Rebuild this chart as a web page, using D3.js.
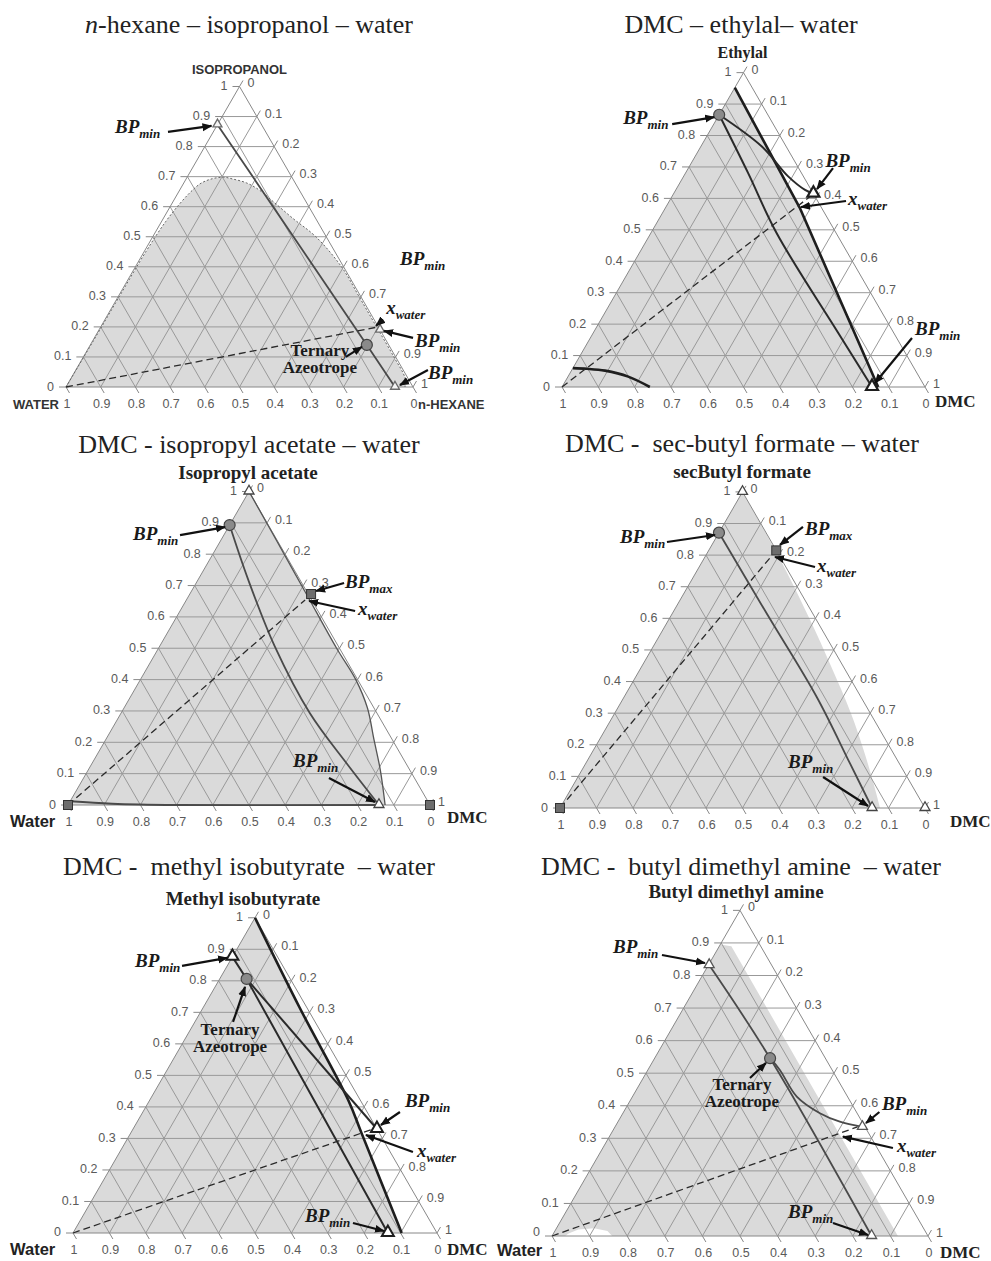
<!DOCTYPE html>
<html>
<head>
<meta charset="utf-8">
<script src="https://cdn.jsdelivr.net/npm/d3@7/dist/d3.min.js"></script>
<style>
body{margin:0;background:#fff}
svg{display:block;background:#fff}
.title{font-family:'Liberation Serif','Times New Roman',serif;font-size:26px;fill:#222;white-space:pre}
.tick-label{font-family:'Liberation Sans',Arial,sans-serif;font-size:12.5px;fill:#5a5a5a}
.grid{stroke:#999;stroke-width:1;fill:none}
.frame{stroke:#888;stroke-width:1;fill:none}
.tickmark{stroke:#888;stroke-width:1}
.name-sans{font-family:'Liberation Sans',Arial,sans-serif;font-weight:bold;font-size:13px;fill:#333}
.name-serif{font-family:'Liberation Serif','Times New Roman',serif;font-weight:bold;font-size:19px;fill:#222}
.name-water{font-family:'Liberation Sans',Arial,sans-serif;font-weight:bold;font-size:16.5px;fill:#222}
.l-thick{stroke:#1e1e1e;stroke-width:2.6;fill:none}
.l-med{stroke:#2a2a2a;stroke-width:2;fill:none}
.l-grey{stroke:#4a4a4a;stroke-width:1.8;fill:none}
.l-thin{stroke:#555;stroke-width:1.3;fill:none}
.l-dash{stroke:#2a2a2a;stroke-width:1.3;fill:none;stroke-dasharray:7 4}
.l-dot{stroke:#666;stroke-width:1;fill:none;stroke-dasharray:2 2}
.ann{font-family:'Liberation Serif','Times New Roman',serif;font-weight:bold;font-style:italic;fill:#1a1a1a}
.ann-plain{font-family:'Liberation Serif','Times New Roman',serif;font-weight:bold;font-size:17px;fill:#1a1a1a}
.arrow{stroke:#111;stroke-width:2.2;fill:none}
</style>
</head>
<body>
<svg id="chart" width="991" height="1261"></svg>
<script>
// ================= DATA =================
// compositions are [top-component mole fraction, right-component mole fraction]; water = 1 - top - right
const titles = ["n-hexane – isopropanol – water", "DMC – ethylal– water", "DMC - isopropyl acetate – water",
  "DMC -  sec-butyl formate – water", "DMC -  methyl isobutyrate  – water", "DMC -  butyl dimethyl amine  – water"];
const titleItalicChars = [1, 0, 0, 0, 0, 0];
const topNames = ["ISOPROPANOL", "Ethylal", "Isopropyl acetate", "secButyl formate", "Methyl isobutyrate", "Butyl dimethyl amine"];
const leftNames = ["WATER", "", "Water", "", "Water", "Water"];
const rightNames = ["n-HEXANE", "DMC", "DMC", "DMC", "DMC", "DMC"];
const tickValues = [0, 0.1, 0.2, 0.3, 0.4, 0.5, 0.6, 0.7, 0.8, 0.9, 1];

// Panel 1: n-hexane – isopropanol – water  ([isopropanol, n-hexane])
const hexBinodal = [[0,0],[0.15,0.002],[0.3,0.003],[0.45,0.005],[0.55,0.012],[0.61,0.023],[0.65,0.035],[0.678,0.05],
  [0.693,0.075],[0.698,0.105],[0.692,0.135],[0.679,0.181],[0.655,0.23],[0.622,0.281],[0.56,0.375],[0.5,0.47],
  [0.4,0.594],[0.3,0.695],[0.2,0.795],[0.1,0.895],[0.03,0.962],[0,0.977]];
const hexBoundary = [[0.873,0],[0.14,0.797],[0,0.948]];
const hexWaterLine = [[0,0],[0.198,0.792]];
const hexTriangles = [[0.873,0],[0.19,0.81],[0,0.948]];
const hexCircles = [[0.14,0.797]];
const hexXwater = [0.198,0.792];

// Panel 2: DMC – ethylal – water  ([ethylal, DMC])
const ethThick = [[0.952,0],[0.57,0.37],[0,0.871]];
const ethBoundaryA = [[0.866,0],[0.681,0.172],[0.489,0.347],[0.171,0.676],[0,0.854]];
const ethBoundaryB = [[0.866,0],[0.765,0.168],[0.67,0.288],[0.627,0.356],[0.615,0.385]];
const ethLLE = [[0.06,0],[0.058,0.04],[0.052,0.0925],[0.033,0.166],[0,0.242]];
const ethWaterLine = [[0,0],[0.605,0.38]];
const ethTriangles = [[0.615,0.385],[0,0.854]];
const ethCircles = [[0.866,0]];
const ethXwater = [0.57,0.36];

// Panel 3: DMC – isopropyl acetate – water  ([isopropyl acetate, DMC])
const ipaRegionEdge = [[1,0],[0.85,0.148],[0.673,0.322],[0.5,0.492],[0.4,0.595],[0.31,0.672],[0.21,0.74],[0.11,0.808],[0,0.876]];
const ipaBoundary = [[0.893,0],[0.718,0.139],[0.505,0.319],[0.2925,0.522],[0.133,0.703],[0,0.859]];
const ipaBaseLine = [[0.012,0],[0.004,0.12],[0,0.3],[0,0.859]];
const ipaWaterLine = [[0,0],[0.654,0.328]];
const ipaTriangles = [[1,0],[0,0.859]];
const ipaCircles = [[0.893,0]];
const ipaSquares = [[0,0],[0,1],[0.673,0.335]];
const ipaXwater = [0.654,0.328];

// Panel 4: DMC – sec-butyl formate – water  ([sec-butyl formate, DMC])
const sbfRegionEdge = [[1,0],[0.8,0.197],[0.6,0.383],[0.45,0.517],[0.3,0.647],[0.19,0.735],[0.09,0.811],[0,0.877]];
const sbfBoundary = [[0.871,0],[0.616,0.258],[0.352,0.527],[0.141,0.724],[0,0.855]];
const sbfWaterLine = [[0,0],[0.797,0.181]];
const sbfTriangles = [[1,0],[0,0.855],[0,1]];
const sbfCircles = [[0.871,0]];
const sbfSquares = [[0,0],[0.815,0.185]];
const sbfXwater = [0.797,0.181];

// Panel 5: DMC – methyl isobutyrate – water  ([methyl isobutyrate, DMC])
const mibThick = [[1,0],[0.713,0.267],[0.422,0.545],[0.316,0.635],[0,0.903]];
const mibBoundaryA = [[0.876,0],[0.806,0.074],[0,0.865]];
const mibBoundaryB = [[0.806,0.074],[0.33,0.67]];
const mibWaterLine = [[0,0],[0.33,0.66]];
const mibTriangles = [[0.876,0],[0.33,0.67],[0,0.865]];
const mibCircles = [[0.806,0.074]];
const mibXwater = [0.316,0.635];

// Panel 6: DMC – butyl dimethyl amine – water  ([butyl dimethyl amine, DMC])
const bdmaRegionEdge = [[0.895,0],[0.89,0.032],[0,0.92],[0,0.16],[0.015,0.14],[0.024,0.1],[0.02,0.06],[0.008,0.04],[0,0.035]];
const bdmaBoundaryA = [[0.832,0.002],[0.546,0.307],[0,0.85]];
const bdmaBoundaryB = [[0.546,0.307],[0.51,0.351],[0.428,0.437],[0.377,0.524],[0.351,0.59],[0.335,0.658]];
const bdmaWaterLine = [[0,0],[0.335,0.645]];
const bdmaTriangles = [[0.832,0.002],[0.335,0.658],[0,0.85]];
const bdmaCircles = [[0.546,0.307]];
const bdmaXwater = [0.315,0.607];

// ================= LAYOUT =================
const panels = [
  { Lx:66, Rx:413, Ly:387, title:[249,33], topPos:[239.5,74], topCls:'name-sans', leftPos:[13,409], leftCls:'name-sans', rightPos:[418,409], rightCls:'name-sans',
    hideRight:[0.8], zeroDy:3.5,
    region:{pre:[], pts:hexBinodal, smooth:true},
    lines:[{pts:hexBinodal, cls:'l-dot', smooth:true},{pts:hexBoundary, cls:'l-grey'},{pts:hexWaterLine, cls:'l-dash'}],
    tri:hexTriangles, triStyle:{s:9, stroke:'#6a6a6a', sw:1.3, fill:'#f4f4f4'}, circ:hexCircles, sq:[],
    anns:[
      {kind:'bp', sub:'min', at:hexTriangles[0], label:[-102.5,8.3], tail:[-49.5,7.3], head:[-6,1.3]},
      {kind:'bp', sub:'min', at:hexTriangles[1], label:[20,-65]},
      {kind:'x', sub:'water', at:hexXwater, label:[11,-13], tail:[8,-8], head:[1,-2]},
      {kind:'bp', sub:'min', at:hexTriangles[1], label:[35,17], tail:[33,8], head:[4,1]},
      {kind:'text', lines:['Ternary','Azeotrope'], at:hexCircles[0], label:[-47,11], tail:[-21,12], head:[-5,2]},
      {kind:'bp', sub:'min', at:hexTriangles[2], label:[33,-8], tail:[33,-17], head:[5,-2]}
    ]},
  { Lx:562, Rx:925, Ly:387, title:[741,33], topPos:[742.5,58], topCls:'name-serif', topSize:16, rightPos:[935,407], rightCls:'name-serif', rightSize:17,
    hideRight:[], zeroDy:3.5,
    region:{pre:[[0,0]], pts:ethThick, smooth:false},
    lines:[{pts:ethThick, cls:'l-thick'},{pts:ethBoundaryA, cls:'l-med', smooth:true},{pts:ethBoundaryB, cls:'l-med', smooth:true},
           {pts:ethLLE, cls:'l-thick', smooth:true},{pts:ethWaterLine, cls:'l-dash'}],
    tri:ethTriangles, triStyle:{s:12, stroke:'#1e1e1e', sw:2.2, fill:'#fff'}, circ:ethCircles, sq:[],
    anns:[
      {kind:'bp', sub:'min', at:ethCircles[0], label:[-96,9.3], tail:[-47,9.3], head:[-5,2.3]},
      {kind:'bp', sub:'min', at:ethTriangles[0], label:[12,-27], tail:[19.6,-25.6], head:[3.6,-4.6]},
      {kind:'x', sub:'water', at:ethXwater, label:[51.9,-2.8], tail:[49.9,-6.8], head:[4.9,-0.8]},
      {kind:'bp', sub:'min', at:ethTriangles[1], label:[43,-52], tail:[40,-49], head:[3,-4]}
    ]},
  { Lx:68, Rx:430, Ly:805, title:[249,453], topPos:[248,479], topCls:'name-serif', leftPos:[10,827], leftCls:'name-water', rightPos:[447,823], rightCls:'name-serif', rightSize:17,
    hideRight:[], zeroDy:3.5,
    region:{pre:[[0,0]], pts:ipaRegionEdge, smooth:true},
    lines:[{pts:ipaRegionEdge, cls:'l-thin', smooth:true},{pts:ipaBoundary, cls:'l-grey', smooth:true},{pts:ipaBaseLine, cls:'l-grey', smooth:true},{pts:ipaWaterLine, cls:'l-dash'}],
    tri:ipaTriangles, triStyle:{s:10, stroke:'#444', sw:1.3, fill:'#fff'}, circ:ipaCircles, sq:ipaSquares,
    anns:[
      {kind:'bp', sub:'min', at:ipaCircles[0], label:[-96.6,15], tail:[-49.6,10], head:[-4.6,2]},
      {kind:'bp', sub:'max', at:ipaSquares[2], label:[34,-6], tail:[33,-11], head:[5,-3]},
      {kind:'x', sub:'water', at:ipaXwater, label:[53,15], tail:[50,11], head:[4,1]},
      {kind:'bp', sub:'min', at:ipaTriangles[1], label:[-86,-38], tail:[-50,-27], head:[-4,-3]}
    ]},
  { Lx:560, Rx:925, Ly:808, title:[742,452], topPos:[742,478], topCls:'name-serif', rightPos:[950,827], rightCls:'name-serif', rightSize:17,
    hideRight:[], zeroDy:3.5,
    region:{pre:[[0,0]], pts:sbfRegionEdge, smooth:true},
    lines:[{pts:sbfBoundary, cls:'l-grey', smooth:true},{pts:sbfWaterLine, cls:'l-dash'}],
    tri:sbfTriangles, triStyle:{s:10, stroke:'#444', sw:1.3, fill:'#fff'}, circ:sbfCircles, sq:sbfSquares,
    anns:[
      {kind:'bp', sub:'min', at:sbfCircles[0], label:[-99,10.3], tail:[-52,9.3], head:[-4,2.3]},
      {kind:'bp', sub:'max', at:sbfSquares[1], label:[28.7,-15.4], tail:[26.7,-23.4], head:[3.7,-5.4]},
      {kind:'x', sub:'water', at:sbfXwater, label:[45.5,15.6], tail:[43.5,10.9], head:[3.5,0.9]},
      {kind:'bp', sub:'min', at:sbfTriangles[1], label:[-84,-40], tail:[-49,-31], head:[-4,-2]}
    ]},
  { Lx:73, Rx:437, Ly:1233, title:[249,875], topPos:[243,905], topCls:'name-serif', leftPos:[10,1255], leftCls:'name-water', rightPos:[447,1255], rightCls:'name-serif', rightSize:17,
    hideRight:[], zeroDy:3,
    region:{pre:[[0,0]], pts:mibThick, smooth:true},
    lines:[{pts:mibThick, cls:'l-thick', smooth:true},{pts:mibBoundaryA, cls:'l-med'},{pts:mibBoundaryB, cls:'l-med'},{pts:mibWaterLine, cls:'l-dash'}],
    tri:mibTriangles, triStyle:{s:12, stroke:'#1e1e1e', sw:2, fill:'#fff'}, circ:mibCircles, sq:[],
    anns:[
      {kind:'bp', sub:'min', at:mibTriangles[0], label:[-97.4,9.8], tail:[-50.4,9.1], head:[-5.4,1.1]},
      {kind:'text', lines:['Ternary','Azeotrope'], at:mibCircles[0], label:[-16.6,56], tail:[-13.6,43], head:[-1.6,8]},
      {kind:'bp', sub:'min', at:mibTriangles[1], label:[28,-22.3], tail:[23,-17], head:[4,-4]},
      {kind:'x', sub:'water', at:mibXwater, label:[55.3,23.4], tail:[51.3,18.7], head:[4.3,1.7]},
      {kind:'bp', sub:'min', at:mibTriangles[2], label:[-82.9,-11.3], tail:[-34.9,-10], head:[-3.9,-2]}
    ]},
  { Lx:552, Rx:928, Ly:1236, title:[741,875], topPos:[736,898], topCls:'name-serif', leftPos:[497,1256], leftCls:'name-water', rightPos:[940,1258], rightCls:'name-serif', rightSize:17,
    hideRight:[], zeroDy:0,
    region:{pre:[[0,0]], pts:bdmaRegionEdge, smooth:false},
    lines:[{pts:bdmaBoundaryA, cls:'l-grey', smooth:true},{pts:bdmaBoundaryB, cls:'l-grey', smooth:true},{pts:bdmaWaterLine, cls:'l-dash'}],
    tri:bdmaTriangles, triStyle:{s:10, stroke:'#555', sw:1.3, fill:'#fff'}, circ:bdmaCircles, sq:[],
    anns:[
      {kind:'bp', sub:'min', at:bdmaTriangles[0], label:[-96.2,-12.1], tail:[-47.2,-10.1], head:[-4.2,-2.1]},
      {kind:'text', lines:['Ternary','Azeotrope'], at:bdmaCircles[0], label:[-28.1,31.8], tail:[-20.1,19.8], head:[-4.1,4.8]},
      {kind:'bp', sub:'min', at:bdmaTriangles[1], label:[19.5,-16.9], tail:[17,-14.9], head:[3.6,-3.9]},
      {kind:'x', sub:'water', at:bdmaXwater, label:[57.5,18.3], tail:[53.5,14.6], head:[3.5,3.2]},
      {kind:'bp', sub:'min', at:bdmaTriangles[2], label:[-83.6,-18], tail:[-38.6,-13], head:[-3.6,-1]}
    ]}
];

// ================= DRAW =================
const svg = d3.select('#chart');
svg.append('rect').attr('width',991).attr('height',1261).attr('fill','#fff');
svg.append('defs').append('marker').attr('id','ah').attr('viewBox','0 0 10 10')
  .attr('refX',9).attr('refY',5).attr('markerWidth',10).attr('markerHeight',10)
  .attr('markerUnits','userSpaceOnUse').attr('orient','auto')
  .append('path').attr('d','M0,1 L10,5 L0,9 Z').attr('fill','#111');

const fmt = d3.format('.1~f');

panels.forEach((L, i) => {
  const side = L.Rx - L.Lx, h = side * Math.sqrt(3) / 2;
  const xs = d3.scaleLinear().domain([0,1]).range([L.Lx, L.Rx]);
  const ys = d3.scaleLinear().domain([0,1]).range([L.Ly, L.Ly - h]);
  const P = d => [xs(d[1] + d[0] / 2), ys(d[0])];
  const smoothGen = d3.line().curve(d3.curveCatmullRom.alpha(0.5));
  const linGen = d3.line();
  const g = svg.append('g');

  // title
  const tt = g.append('text').attr('class','title').attr('x',L.title[0]).attr('y',L.title[1]).attr('text-anchor','middle');
  const k = titleItalicChars[i];
  if (k) tt.append('tspan').attr('font-style','italic').text(titles[i].slice(0,k));
  tt.append('tspan').text(titles[i].slice(k));

  // region fill
  const R = L.region;
  const gen = R.smooth ? smoothGen : linGen;
  let d = gen(R.pts.map(P));
  if (R.pre.length) d = 'M' + R.pre.map(P).map(p => p.join(',')).join('L') + d.replace(/^M/, 'L');
  g.append('path').attr('d', d + 'Z').attr('fill', '#dadada').attr('stroke','none');

  // grid
  const gv = tickValues.filter(v => v > 0 && v < 1);
  gv.forEach(v => {
    [[[v,0],[v,1-v]], [[0,v],[1-v,v]], [[1-v,0],[0,1-v]]].forEach(seg => {
      g.append('path').attr('class','grid').attr('d', linGen(seg.map(P)));
    });
  });
  g.append('path').attr('class','frame').attr('d', linGen([[0,0],[0,1],[1,0]].map(P)) + 'Z');

  // ticks & labels
  tickValues.forEach(v => {
    const [lx, ly] = P([v,0]);
    g.append('line').attr('class','tickmark').attr('x1',lx).attr('y1',ly).attr('x2',lx-7).attr('y2',ly);
    g.append('text').attr('class','tick-label').attr('x',lx-12).attr('y',ly + (v === 0 ? L.zeroDy : 3.5)).attr('text-anchor','end').text(fmt(v));
    const [rx, ry] = P([1-v, v]);
    g.append('line').attr('class','tickmark').attr('x1',rx).attr('y1',ry).attr('x2',rx+3.5).attr('y2',ry-6);
    if (!L.hideRight.includes(v))
      g.append('text').attr('class','tick-label').attr('x',rx+8).attr('y',ry+1).attr('text-anchor','start').text(fmt(v));
    const [bx, by] = P([0, 1-v]);
    g.append('line').attr('class','tickmark').attr('x1',bx).attr('y1',by).attr('x2',bx+3.5).attr('y2',by+6);
    g.append('text').attr('class','tick-label').attr('x',bx+1).attr('y',L.Ly+21).attr('text-anchor','middle').text(fmt(v));
  });

  // component names
  const tn = g.append('text').attr('class',L.topCls).attr('x',L.topPos[0]).attr('y',L.topPos[1]).attr('text-anchor','middle').text(topNames[i]);
  if (L.topSize) tn.style('font-size', L.topSize + 'px');
  if (leftNames[i]) g.append('text').attr('class',L.leftCls).attr('x',L.leftPos[0]).attr('y',L.leftPos[1]).text(leftNames[i]);
  const rn = g.append('text').attr('class',L.rightCls).attr('x',L.rightPos[0]).attr('y',L.rightPos[1]).text(rightNames[i]);
  if (L.rightSize) rn.style('font-size', L.rightSize + 'px');

  // lines
  L.lines.forEach(ln => {
    g.append('path').attr('class', ln.cls).attr('d', (ln.smooth ? smoothGen : linGen)(ln.pts.map(P)));
  });

  // markers
  L.sq.forEach(p => {
    const [x, y] = P(p);
    g.append('rect').attr('x',x-4.5).attr('y',y-4.5).attr('width',9).attr('height',9)
      .attr('fill','#6d6d6d').attr('stroke','#333').attr('stroke-width',1);
  });
  L.circ.forEach(p => {
    const [x, y] = P(p);
    g.append('circle').attr('cx',x).attr('cy',y).attr('r',5.5).attr('fill','#8a8a8a').attr('stroke','#444').attr('stroke-width',1.2);
  });
  const ts = L.triStyle;
  L.tri.forEach(p => {
    const [x, y] = P(p);
    const s = ts.s;
    g.append('path').attr('d', `M${x},${y - s*0.62}L${x - s/2},${y + s*0.25}L${x + s/2},${y + s*0.25}Z`)
      .attr('fill', ts.fill).attr('stroke', ts.stroke).attr('stroke-width', ts.sw).attr('stroke-linejoin','miter');
  });

  // annotations
  L.anns.forEach(a => {
    const [px, py] = P(a.at);
    if (a.tail) {
      g.append('line').attr('class','arrow')
        .attr('x1', px + a.tail[0]).attr('y1', py + a.tail[1])
        .attr('x2', px + a.head[0]).attr('y2', py + a.head[1])
        .attr('marker-end','url(#ah)');
    }
    if (a.kind === 'text') {
      const t = g.append('text').attr('class','ann-plain').attr('text-anchor','middle');
      a.lines.forEach((s, j) => t.append('tspan').attr('x', px + a.label[0]).attr('y', py + a.label[1] + j*17).text(s));
    } else {
      const t = g.append('text').attr('class','ann').attr('x', px + a.label[0]).attr('y', py + a.label[1]);
      t.append('tspan').style('font-size','19px').text(a.kind === 'bp' ? 'BP' : 'x');
      t.append('tspan').style('font-size','13px').attr('dy',5).text(a.sub);
    }
  });
});
</script>
</body>
</html>
